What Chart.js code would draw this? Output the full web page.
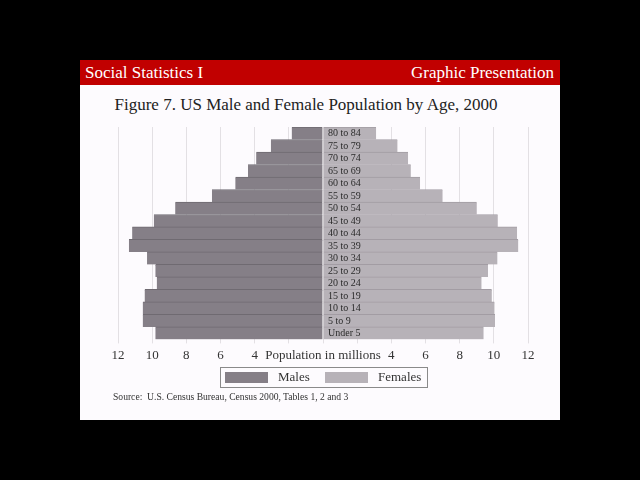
<!DOCTYPE html>
<html>
<head>
<meta charset="utf-8">
<script src="https://cdn.jsdelivr.net/npm/chart.js@4/dist/chart.umd.min.js"></script>
<style>
  html, body { margin: 0; padding: 0; background: #000; width: 640px; height: 480px; overflow: hidden; }
  #slide { position: absolute; left: 80px; top: 60px; width: 480px; height: 360px; background: #fdfbfe; }
  #header { position: absolute; left: 0; top: 0; width: 480px; height: 25px; background: #c10000; color: #fff;
            font-family: "Liberation Serif", serif; font-size: 17px; }
  #header .l { position: absolute; left: 5px; top: 3px; }
  #header .r { position: absolute; right: 6px; top: 3px; }
  #title { position: absolute; left: 0; top: 35px; width: 452px; text-align: center; color: #222;
           font-family: "Liberation Serif", serif; font-size: 17px; }
  #source { position: absolute; left: 33px; top: 331px; color: #333; font-family: "Liberation Serif", serif; font-size: 9.6px; white-space: pre; }
  #wrap { position: absolute; left: 0; top: 25px; width: 480px; height: 312px; }
</style>
</head>
<body>
<div id="slide">
  <div id="header"><span class="l">Social Statistics I</span><span class="r">Graphic Presentation</span></div>
  <div id="title">Figure 7. US Male and Female Population by Age, 2000</div>
  <div id="wrap"><canvas id="c" width="480" height="312"></canvas></div>
  <div id="source">Source:  U.S. Census Bureau, Census 2000, Tables 1, 2 and 3</div>
</div>
<script>
const ageGroups = ["80 to 84","75 to 79","70 to 74","65 to 69","60 to 64","55 to 59","50 to 54","45 to 49",
                   "40 to 44","35 to 39","30 to 34","25 to 29","20 to 24","15 to 19","10 to 14","5 to 9","Under 5"];
const males   = [1.83, 3.05, 3.91, 4.39, 5.13, 6.50, 8.65, 9.90, 11.17, 11.36, 10.30, 9.81, 9.73, 10.44, 10.55, 10.55, 9.81];
const females = [3.11, 4.36, 4.98, 5.14, 5.68, 7.00, 9.00, 10.23, 11.36, 11.43, 10.21, 9.66, 9.28, 9.88, 10.04, 10.07, 9.40];
const axisTicks = [-12, -10, -8, -6, -4, -2, 0, 2, 4, 6, 8, 10, 12];
const axisTitle = "Population in millions";

const serif = '"Liberation Serif", serif';

const ageLabelPlugin = {
  id: 'ageLabels',
  afterDatasetsDraw(chart) {
    const {ctx, scales: {x, y}} = chart;
    ctx.save();
    ctx.font = '10px ' + serif;
    ctx.fillStyle = '#2a2a2a';
    ctx.textAlign = 'left';
    ctx.textBaseline = 'middle';
    const x0 = x.getPixelForValue(0) + 5;
    ageGroups.forEach((lab, i) => ctx.fillText(lab, x0, y.getPixelForValue(i) + 0.5));
    ctx.restore();
  }
};

// Boxed legend below the axis, built from the datasets' labels and colours
const boxedLegendPlugin = {
  id: 'boxedLegend',
  afterDraw(chart) {
    const {ctx, scales: {x}} = chart;
    const cx = x.getPixelForValue(0);
    const top = x.bottom + 0.5;
    ctx.save();
    ctx.strokeStyle = '#8a8a8a';
    ctx.lineWidth = 1;
    ctx.strokeRect(Math.round(cx - 103) + 0.5, top, 207, 20);
    ctx.font = '13px ' + serif;
    ctx.textBaseline = 'middle';
    ctx.textAlign = 'left';
    chart.data.datasets.forEach((ds, i) => {
      const sx = Math.round(cx - 98 + i * 100);
      ctx.fillStyle = ds.backgroundColor;
      ctx.fillRect(sx, top + 4.5, 43, 11);
      ctx.fillStyle = '#333';
      ctx.fillText(ds.label, sx + 53, top + 10.5);
    });
    ctx.restore();
  }
};

new Chart(document.getElementById('c'), {
  type: 'bar',
  data: {
    labels: ageGroups,
    datasets: [
      { label: 'Males', data: males.map(v => -v), backgroundColor: '#857f87', borderColor: '#6f6a71',
        borderWidth: {top: 1, right: 0, bottom: 0, left: 0}, borderSkipped: false,
        barPercentage: 1, categoryPercentage: 1 },
      { label: 'Females', data: females, backgroundColor: '#b7b2b8', borderColor: '#a29ca3',
        borderWidth: {top: 1, right: 0, bottom: 0, left: 0}, borderSkipped: false,
        barPercentage: 1, categoryPercentage: 1 }
    ]
  },
  options: {
    indexAxis: 'y',
    responsive: false,
    animation: false,
    layout: { padding: { left: 38, right: 32, top: 42, bottom: 30 } },
    scales: {
      x: {
        stacked: true, min: -12, max: 12,
        afterBuildTicks: (s) => { s.ticks = axisTicks.map(v => ({ value: v })); },
        ticks: {
          autoSkip: false, maxRotation: 0, padding: 4,
          font: { family: serif, size: 13 }, color: '#333',
          callback: (v) => v === 0 ? axisTitle : (Math.abs(v) < 4 ? '' : String(Math.abs(v)))
        },
        grid: { color: '#e3e0e4', tickLength: 4, drawOnChartArea: true },
        border: { display: false }
      },
      y: {
        stacked: true, display: false,
        grid: { display: false }
      }
    },
    plugins: {
      title: { display: false },
      tooltip: { enabled: false },
      legend: { display: false }
    }
  },
  plugins: [ageLabelPlugin, boxedLegendPlugin]
});
</script>
</body>
</html>
